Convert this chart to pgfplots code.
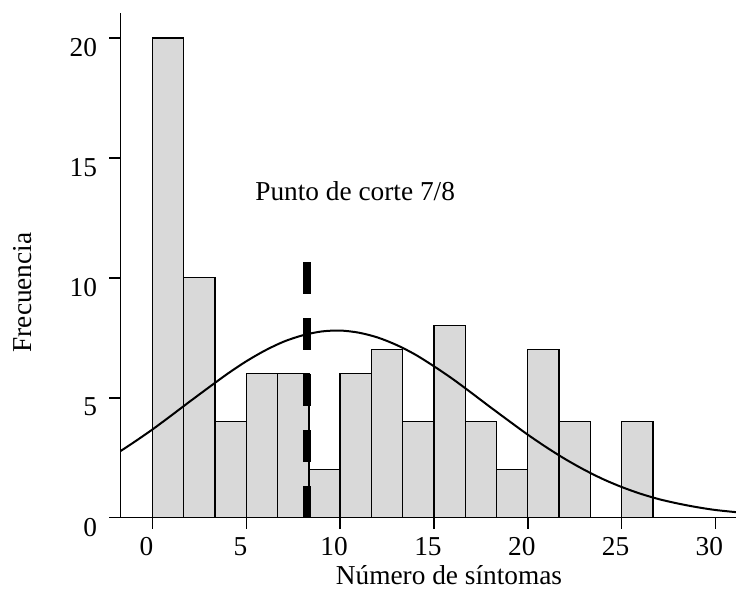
\documentclass[border=0pt]{standalone}
\usepackage{fontspec}
\setmainfont{Liberation Serif}
\usepackage{pgfplots}
\pgfplotsset{compat=1.18}
\definecolor{barfill}{RGB}{217,217,217}
\begin{document}
\begin{tikzpicture}
\begin{axis}[
  scale only axis, width=461.5pt, height=378.75pt,
  xmin=-1.7, xmax=31.1, ymin=0, ymax=21.05,
  axis x line=bottom, axis y line=left,
  axis line style={-, line width=0.8pt},
  tick align=outside, major tick length=8.5pt,
  tick style={line width=1.2pt, black},
  xtick={0,5,...,30}, ytick={0,5,...,20},
  /pgf/number format/assume math mode=true,
  xticklabel style={font=\fontsize{20.5}{22}\selectfont, anchor=north, inner sep=0pt, yshift=-6pt, xshift=-4.5pt},
  yticklabel style={font=\fontsize{20.5}{22}\selectfont, anchor=north east, inner sep=0pt, xshift=-9pt},
  xlabel={Número de síntomas},
  ylabel={Frecuencia},
  xlabel style={font=\fontsize{20.5}{22}\selectfont, at={(axis description cs:0.5336,-0.1333)}, anchor=base},
  ylabel style={font=\fontsize{20.5}{22}\selectfont, at={(axis description cs:-0.1442,0.446)}, anchor=base},
  clip=true,
]
\addplot[ybar interval, fill=barfill, draw=black, line width=1pt] coordinates {
  (0,20) (1.6667,10) (3.3333,4) (5,6) (6.6667,6) (8.3333,2) (10,6) (11.6667,7)
  (13.3333,4) (15,8) (16.6667,4) (18.3333,2) (20,7) (21.6667,4) (23.3333,0)
  (25,4) (26.6667,4)
};
\addplot[black, line width=1.5pt, smooth] coordinates {
  (-1.7,2.78) (-1,3.14) (0,3.68) (1,4.26) (2,4.85) (3,5.43) (4,6.00) (5,6.52)
  (6,6.97) (7,7.34) (8,7.60) (9,7.76) (10,7.80) (11,7.71) (12,7.51) (13,7.20)
  (14,6.80) (15,6.31) (16,5.78) (17,5.20) (18,4.61) (19,4.03) (20,3.46)
  (21,2.93) (22,2.44) (23,2.00) (24,1.61) (25,1.28) (26,1.00) (27,0.77)
  (28,0.59) (29,0.44) (30,0.32) (31.1,0.23)
};
\addplot[black, line width=6pt, dash pattern=on 24pt off 18pt] coordinates {
  (8.226,0) (8.226,10.67)
};
\node[font=\fontsize{20.5}{22}\selectfont, anchor=base] at (axis cs:10.8,13.21) {Punto de corte 7/8};
\coordinate (sw) at (rel axis cs:0,0);
\coordinate (ne) at (rel axis cs:1,1);
\end{axis}
\pgfresetboundingbox
\path[use as bounding box] ([shift={(-90.5pt,-58.7pt)}]sw) rectangle ([shift={(0pt,9.5pt)}]ne);
\end{tikzpicture}
\end{document}
